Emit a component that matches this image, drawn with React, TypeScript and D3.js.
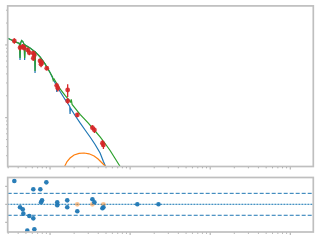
import React from "react";
import * as d3 from "d3";

// Observed spectrum (energy, flux, flux error)
const dataE = [0.358, 0.422, 0.456, 0.473, 0.526, 0.551, 0.618, 0.637, 0.618, 0.75, 0.787, 0.772, 0.91, 1.21, 1.25, 1.66, 1.66, 2.19, 3.38, 3.58, 4.51, 4.64];
const dataF = [11.35, 9.18, 9.48, 9.18, 8.54, 7.83, 7.69, 7.28, 6.56, 6.03, 5.71, 5.43, 4.78, 2.76, 2.54, 2.4, 1.7, 1.09, 0.729, 0.678, 0.445, 0.421];
const dataErr = [1.0, 0.8, 0.8, 0.8, 0.7, 0.6, 0.6, 0.6, 0.5, 0.5, 0.5, 0.5, 0.3, 0.25, 0.25, 0.47, 0.15, 0.08, 0.06, 0.06, 0.05, 0.05];

// Total model (green)
const totalE = [0.2959, 0.335, 0.3758, 0.4146, 0.4217, 0.429, 0.4416, 0.4571, 0.4759, 0.4815, 0.4898, 0.5623, 0.6423, 0.6494, 0.6588, 0.7499, 0.866, 1.0, 1.0746, 1.0965, 1.122, 1.3335, 1.5399, 1.8043, 1.8408, 1.8836, 2.3714, 2.9854, 3.6517, 4.217, 4.8697, 5.6234, 6.4938, 7.4989];
const totalF = [12.37, 11.6, 10.93, 10.52, 6.625, 10.59, 11.49, 11.14, 10.13, 6.625, 9.94, 9.09, 8.12, 4.39, 7.96, 6.84, 5.48, 4.18, 3.63, 3.25, 3.41, 2.48, 2.02, 1.644, 1.78, 1.519, 1.107, 0.846, 0.656, 0.5428, 0.4417, 0.3538, 0.2747, 0.2132];

// Power-law component (blue)
const plE = [0.2959, 0.335, 0.3758, 0.4146, 0.4217, 0.429, 0.4416, 0.4571, 0.4759, 0.4815, 0.4898, 0.5623, 0.6423, 0.6494, 0.6588, 0.7499, 0.866, 1.0, 1.0902, 1.2023, 1.2128, 1.2233, 1.3335, 1.5399, 1.7633, 1.7783, 1.7937, 2.0535, 2.3714, 2.7384, 3.1623, 3.6517, 4.217, 4.6375, 4.9402];
const plF = [12.37, 11.6, 10.93, 10.52, 6.22, 10.59, 11.49, 11.14, 10.13, 6.22, 9.94, 9.09, 8.12, 4.12, 7.96, 6.84, 5.48, 4.18, 3.41, 2.773, 2.257, 2.687, 2.293, 1.78, 1.426, 1.124, 1.359, 1.072, 0.846, 0.677, 0.5428, 0.4278, 0.3268, 0.2497, 0.2132];

// Line component (orange)
const lineE = [1.518, 1.6313, 1.7783, 1.9953, 2.3041, 2.6607, 3.0726, 3.5481, 3.9811, 4.4668, 4.9402];
const lineF = [0.2132, 0.2497, 0.2791, 0.3069, 0.3237, 0.3268, 0.3187, 0.2973, 0.2703, 0.2381, 0.2132];

// Residuals
const residE = [0.358, 0.422, 0.456, 0.464, 0.52, 0.551, 0.618, 0.618, 0.637, 0.756, 0.772, 0.794, 0.899, 1.23, 1.23, 1.64, 1.64, 2.19, 3.38, 3.58, 4.51, 4.64, 12.3, 22.6];
const residV = [2.59, -0.33, -0.56, -1.04, -2.93, -1.3, 1.67, -1.56, -2.78, 1.67, 0.22, 0.44, 2.44, 0.22, -0.11, 0.44, -0.33, -0.78, 0.56, 0.22, -0.44, -0.33, 0, 0];
const residOrangeE = [2.19, 3.38, 4.64];
const residOrangeV = [0, 0, 0];
const residTicks = [-2, 0, 2];
const residBands = [-1.22, 1.22];

const L = 7.7, R = 313.3, T1 = 5.9, B1 = 166.5, T2 = 177.5, B2 = 232;

export default function App() {
  const x = d3.scaleLog().domain([0.2959, 1939]).range([L, R]);
  const y = d3.scaleLog().domain([0.2132, 34.4]).range([B1, T1]);
  const yr = d3.scaleLinear().domain([-3.08, 2.98]).range([B2, T2]);

  const mk = (E: number[], F: number[]) =>
    d3.line<number>().x((_, i) => x(E[i])).y((_, i) => y(F[i]))(E.map((_, i) => i)) || "";

  const xt = x.ticks();
  const yt = y.ticks();
  const isMajor = (v: number) => Math.abs(Math.log10(v) - Math.round(Math.log10(v))) < 1e-6;
  const frame = "#bfbfbf";
  const tickC = "#a8a8a8";

  return (
    <svg width={320} height={240} style={{ position: "absolute", left: 0, top: 0, background: "#fff" }}>
      <defs>
        <clipPath id="c1"><rect x={L} y={T1} width={R - L} height={B1 - T1} /></clipPath>
        <clipPath id="c2"><rect x={L} y={T2} width={R - L} height={B2 - T2} /></clipPath>
      </defs>
      {/* top panel ticks */}
      {xt.map((v, i) => (
        <line key={"xt" + i} x1={x(v)} x2={x(v)} y1={B1} y2={B1 + (isMajor(v) ? 3 : 1.8)} stroke={tickC} strokeWidth={1} />
      ))}
      {xt.map((v, i) => (
        <line key={"xb" + i} x1={x(v)} x2={x(v)} y1={B2} y2={B2 + (isMajor(v) ? 3 : 1.8)} stroke={tickC} strokeWidth={1} />
      ))}
      {yt.map((v, i) => (
        <line key={"yt" + i} x1={L - (isMajor(v) ? 2.5 : 1.5)} x2={L} y1={y(v)} y2={y(v)} stroke={tickC} strokeWidth={1} />
      ))}
      {residTicks.map((v, i) => (
        <line key={"rt" + i} x1={L - 2.5} x2={L} y1={yr(v)} y2={yr(v)} stroke={tickC} strokeWidth={1} />
      ))}
      <g clipPath="url(#c1)">
        <path d={mk(plE, plF)} fill="none" stroke="#1f77b4" strokeWidth={1.2} />
        <path d={mk(lineE, lineF)} fill="none" stroke="#ff7f0e" strokeWidth={1.2} />
        <path d={mk(totalE, totalF)} fill="none" stroke="#2ca02c" strokeWidth={1.2} />
        {dataE.map((e, i) => (
          <g key={"d" + i}>
            <line x1={x(e)} x2={x(e)} y1={y(dataF[i] - dataErr[i])} y2={y(dataF[i] + dataErr[i])} stroke="#d62728" strokeWidth={1.3} />
            <circle cx={x(e)} cy={y(dataF[i])} r={2.4} fill="#d62728" fillOpacity={0.9} />
          </g>
        ))}
      </g>
      <g clipPath="url(#c2)">
        <line x1={L} x2={R} y1={yr(0)} y2={yr(0)} stroke="#9ecae1" strokeWidth={1} />
        <line x1={L} x2={R} y1={yr(0)} y2={yr(0)} stroke="#1f77b4" strokeWidth={1} strokeDasharray="1.2,1.8" />
        {residBands.map((v, i) => (
          <line key={"b" + i} x1={L} x2={R} y1={yr(v)} y2={yr(v)} stroke="#1f77b4" strokeWidth={1} strokeDasharray="4,2" />
        ))}
        {residOrangeE.map((e, i) => (
          <circle key={"o" + i} cx={x(e)} cy={yr(residOrangeV[i])} r={2.4} fill="#ff7f0e" fillOpacity={0.45} />
        ))}
        {residE.map((e, i) => (
          <circle key={"r" + i} cx={x(e)} cy={yr(residV[i])} r={2.3} fill="#1f77b4" fillOpacity={0.95} />
        ))}
      </g>
      <rect x={L} y={T1} width={R - L} height={B1 - T1} fill="none" stroke={frame} strokeWidth={1.7} />
      <rect x={L} y={T2} width={R - L} height={B2 - T2} fill="none" stroke={frame} strokeWidth={1.7} />
    </svg>
  );
}
